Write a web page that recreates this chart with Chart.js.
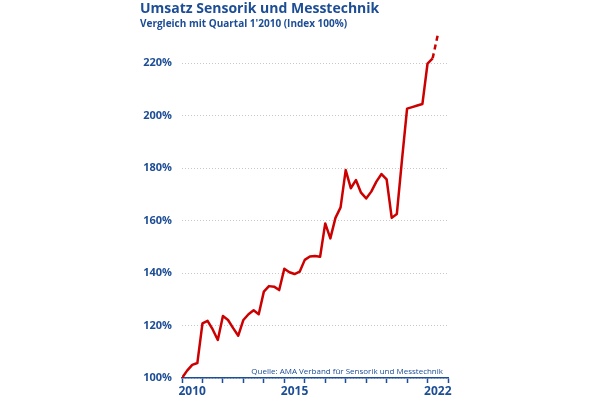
<!DOCTYPE html>
<html>
<head>
<meta charset="utf-8">
<script src="https://cdn.jsdelivr.net/npm/chart.js@4"></script>
<style>
  html, body { margin: 0; padding: 0; background: #fff; }
  #wrap { position: relative; width: 600px; height: 395px; }
</style>
</head>
<body>
<div id="wrap"><canvas id="myChart"></canvas></div>
<script>
// index per quarter, Q1 2010 = 100%
let startYear = 2010;
let quarterValues = [100, 102.8, 105, 105.7, 120.8, 121.8, 118.5, 114.5, 123.6, 122.1,
  119, 116.1, 122.1, 124.3, 125.8, 124.3, 132.9, 135, 134.8, 133.5,
  141.6, 140.3, 139.6, 140.5, 145, 146.3, 146.5, 146.2, 158.9, 153.2,
  161, 165, 179.2, 172.3, 175.4, 170.6, 168.4, 171, 174.8, 177.7,
  175.7, 161, 162.5, 183, 202.6, 203.2, 203.8, 204.4, 219.8, 221.8, 230.7];
let yearLabels = [2010, 2015, 2022];
let yTicks = [100, 120, 140, 160, 180, 200, 220];

let titleText = 'Umsatz Sensorik und Messtechnik';
let subtitleText = "Vergleich mit Quartal 1'2010 (Index 100%)";
let sourceText = 'Quelle: AMA Verband für Sensorik und Messtechnik';

const blue = '#1c4d95';
const red = '#cc0000';

let points = quarterValues.map((v, i) => ({ x: startYear + i / 4, y: v }));
let lastIndex = quarterValues.length - 1;

//draws title, subtitle and source note
const textPlugin = {
  id: 'texts',
  afterDraw(chart) {
    let c = chart.ctx;
    c.save();
    c.fillStyle = blue;
    c.textBaseline = 'alphabetic';
    c.textAlign = 'left';
    c.font = 'bold 14px "Open Sans"';
    c.fillText(titleText, 140, 13);
    c.font = 'bold 10px "Open Sans"';
    c.fillText(subtitleText, 140, 27);
    c.font = '8px "Open Sans"';
    c.textAlign = 'right';
    c.fillText(sourceText, 443, 374);
    c.restore();
  }
};

let ctx = document.getElementById('myChart').getContext('2d');

let salesChart = new Chart(ctx, {
  type: 'line',
  data: {
    datasets: [{
      data: points,
      borderColor: red,
      borderWidth: 2.5,
      pointRadius: 0,
      tension: 0,
      borderJoinStyle: 'round',
      segment: {
        borderDash: c => c.p1DataIndex === lastIndex ? [5, 4] : undefined
      }
    }]
  },
  options: {
    responsive: true,
    maintainAspectRatio: false,
    animation: false,
    layout: { padding: { left: 0, right: 152, top: 31.5, bottom: 0 } },
    plugins: {
      legend: { display: false },
      tooltip: { enabled: false },
      title: { display: false }
    },
    scales: {
      x: {
        type: 'linear',
        min: 2010,
        max: 2023,
        afterBuildTicks: s => {
          s.ticks = [];
          for (let v = 2010; v <= 2023; v += 0.5) s.ticks.push({ value: v });
        },
        afterFit: s => { s.height = 17; },
        border: { display: true, color: blue, width: 1.5 },
        grid: {
          drawOnChartArea: false,
          drawTicks: true,
          tickLength: 5,
          tickWidth: 1.5,
          tickColor: c => Number.isInteger(c.tick.value) ? blue : 'rgba(0,0,0,0)'
        },
        ticks: {
          autoSkip: false,
          maxRotation: 0,
          padding: 1,
          color: blue,
          font: { family: 'Open Sans', size: 12, weight: 'bold' },
          callback: v => yearLabels.includes(v - 0.5) ? String(v - 0.5) : ''
        }
      },
      y: {
        min: 100,
        max: 232,
        afterBuildTicks: s => { s.ticks = yTicks.map(v => ({ value: v })); },
        afterFit: s => { s.width = 182; },
        border: { display: false, dash: [1, 2] },
        grid: { color: '#c8c8c8', lineWidth: 1, drawTicks: false },
        ticks: {
          padding: 10,
          color: blue,
          font: { family: 'Open Sans', size: 11, weight: 'bold' },
          callback: v => v + '%'
        }
      }
    }
  },
  plugins: [textPlugin]
});
</script>
</body>
</html>
